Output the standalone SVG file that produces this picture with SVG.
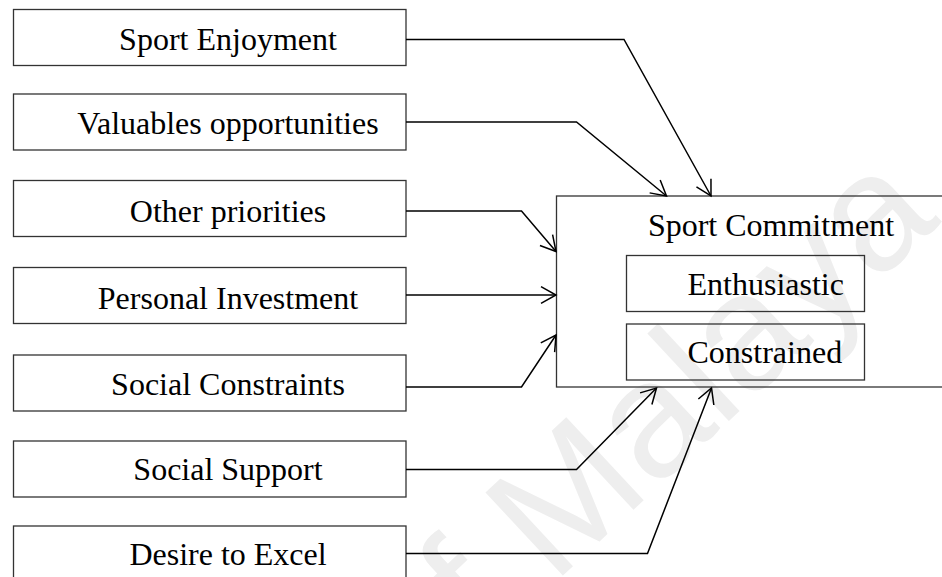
<svg xmlns="http://www.w3.org/2000/svg" width="942" height="577" viewBox="0 0 942 577">
  <style>
    .box { fill: none; stroke: #333; stroke-width: 1.3; }
    .lbl { font-family: "Liberation Serif", "Times New Roman", serif; font-size: 32px; fill: #000; }
    .mid { text-anchor: middle; }
    .conn { fill: none; stroke: #000; stroke-width: 1.5; stroke-linejoin: miter; }
    .wm { font-family: "Liberation Sans", Arial, sans-serif; font-size: 165px; fill: #eeeeee; text-anchor: end; }
  </style>
  <defs>
    <marker id="arrow" markerUnits="userSpaceOnUse" markerWidth="24" markerHeight="24" viewBox="-20 -12 24 24" refX="0" refY="0" orient="auto">
      <path d="M-15,-8.3 L0,0 L-15,8.3" fill="none" stroke="#000" stroke-width="1.5"/>
    </marker>
  </defs>

  <rect width="942" height="577" fill="#fff"/>

  <!-- background watermark -->
  <text class="wm" x="942" y="222" transform="rotate(-43 942 222)">University of Malaya</text>

  <!-- factor boxes -->
  <g id="sport-enjoyment">
    <rect class="box" x="13.5" y="9.5" width="392.5" height="56"/>
    <text class="lbl mid" x="228" y="50">Sport Enjoyment</text>
  </g>
  <g id="valuable-opportunities">
    <rect class="box" x="13.5" y="94" width="392.5" height="56"/>
    <text class="lbl mid" x="228" y="133.5">Valuables opportunities</text>
  </g>
  <g id="other-priorities">
    <rect class="box" x="13.5" y="180.5" width="392.5" height="56"/>
    <text class="lbl mid" x="228" y="221.5">Other priorities</text>
  </g>
  <g id="personal-investment">
    <rect class="box" x="13.5" y="267.5" width="392.5" height="56"/>
    <text class="lbl mid" x="228" y="308.5">Personal Investment</text>
  </g>
  <g id="social-constraints">
    <rect class="box" x="13.5" y="355" width="392.5" height="56"/>
    <text class="lbl mid" x="228" y="395">Social Constraints</text>
  </g>
  <g id="social-support">
    <rect class="box" x="13.5" y="441" width="392.5" height="56"/>
    <text class="lbl mid" x="228" y="480">Social Support</text>
  </g>
  <g id="desire-to-excel">
    <rect class="box" x="13.5" y="526" width="392.5" height="56"/>
    <text class="lbl mid" x="228" y="565">Desire to Excel</text>
  </g>

  <!-- outcome box -->
  <g id="sport-commitment">
    <rect class="box" x="556.5" y="196" width="400" height="191"/>
    <text class="lbl mid" x="771" y="236">Sport Commitment</text>
  </g>
  <g id="enthusiastic">
    <rect class="box" x="626.5" y="255.5" width="238" height="56"/>
    <text class="lbl" x="687.5" y="295">Enthusiastic</text>
  </g>
  <g id="constrained">
    <rect class="box" x="626.5" y="324" width="238" height="56"/>
    <text class="lbl" x="687.5" y="363">Constrained</text>
  </g>

  <!-- connectors -->
  <g id="connectors" class="conn">
    <polyline class="conn" points="406,39.5 624,39.5 711,196" marker-end="url(#arrow)"/>
    <polyline class="conn" points="406,122 576.5,122 666.5,196" marker-end="url(#arrow)"/>
    <polyline class="conn" points="406,211 521.5,211 556,251.5" marker-end="url(#arrow)"/>
    <polyline class="conn" points="406,295 556,295" marker-end="url(#arrow)"/>
    <polyline class="conn" points="406,387 521.5,387 556,335" marker-end="url(#arrow)"/>
    <polyline class="conn" points="406,469.5 576.5,469.5 656.5,388" marker-end="url(#arrow)"/>
    <polyline class="conn" points="406,553.5 647.5,553.5 711.5,388" marker-end="url(#arrow)"/>
  </g>
</svg>
